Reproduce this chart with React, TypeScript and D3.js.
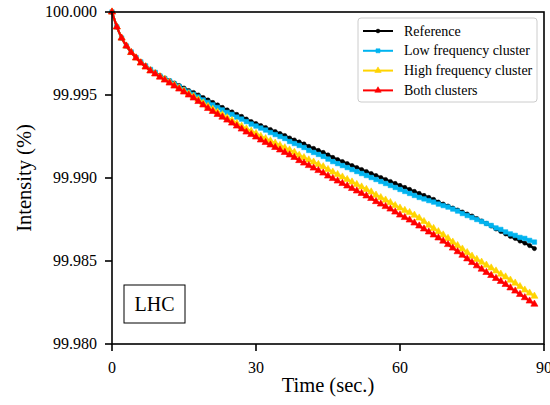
import React from "react";
import * as d3 from "d3";

const TIME = [
  0, 1, 2, 3, 4, 5, 6, 7, 8, 9, 10, 11, 12, 13, 14, 15, 16, 17, 18, 19, 20, 21, 22, 23, 24, 25, 26, 27, 28, 29,
  30, 31, 32, 33, 34, 35, 36, 37, 38, 39, 40, 41, 42, 43, 44, 45, 46, 47, 48, 49, 50, 51, 52, 53, 54, 55, 56, 57, 58, 59,
  60, 61, 62, 63, 64, 65, 66, 67, 68, 69, 70, 71, 72, 73, 74, 75, 76, 77, 78, 79, 80, 81, 82, 83, 84, 85, 86, 87, 88,
];

const REFERENCE = [
  100.0, 99.9991, 99.99843, 99.99795, 99.99759, 99.99726, 99.99699, 99.99675, 99.99654, 99.99636,
  99.99617, 99.99602, 99.99587, 99.99572, 99.99557, 99.99542, 99.99527, 99.99515, 99.995, 99.99485,
  99.9947, 99.99455, 99.9944, 99.99425, 99.9941, 99.99398, 99.99383, 99.99371, 99.99355, 99.9934,
  99.99328, 99.99316, 99.99304, 99.99292, 99.9928, 99.99268, 99.99256, 99.99241, 99.99229, 99.99217,
  99.99205, 99.9919, 99.99178, 99.99166, 99.99154, 99.99139, 99.99124, 99.99111, 99.99099, 99.99087,
  99.99075, 99.99063, 99.99051, 99.99039, 99.99027, 99.99015, 99.99003, 99.98991, 99.98979, 99.98967,
  99.98955, 99.98943, 99.98931, 99.98919, 99.98907, 99.98895, 99.98883, 99.98871, 99.98855, 99.98843,
  99.98831, 99.98819, 99.98807, 99.98795, 99.98783, 99.98771, 99.98756, 99.98741, 99.98726, 99.98711,
  99.98693, 99.98678, 99.98663, 99.98648, 99.98636, 99.9862, 99.98608, 99.98593, 99.98575,
];

const LOW_FREQUENCY = [
  100.0, 99.9991, 99.99843, 99.99795, 99.99759, 99.99726, 99.99699, 99.99675, 99.99654, 99.99636,
  99.99614, 99.99599, 99.99584, 99.99566, 99.99551, 99.99533, 99.99518, 99.99503, 99.99488, 99.9947,
  99.99455, 99.9944, 99.99425, 99.9941, 99.99395, 99.99383, 99.99367, 99.99355, 99.9934, 99.99325,
  99.99313, 99.99301, 99.99289, 99.99274, 99.99262, 99.9925, 99.99238, 99.9922, 99.99208, 99.99196,
  99.99184, 99.99166, 99.99154, 99.99142, 99.9913, 99.99114, 99.99099, 99.99087, 99.99075, 99.99063,
  99.99051, 99.99039, 99.99027, 99.99015, 99.99003, 99.98991, 99.98979, 99.98967, 99.98955, 99.98943,
  99.98931, 99.98919, 99.98907, 99.98895, 99.98883, 99.98874, 99.98864, 99.98855, 99.98843, 99.98834,
  99.98825, 99.98813, 99.98801, 99.98786, 99.98774, 99.98762, 99.9875, 99.98738, 99.98726, 99.98714,
  99.98699, 99.9869, 99.98675, 99.98663, 99.98654, 99.98642, 99.98636, 99.98624, 99.98614,
];

const HIGH_FREQUENCY = [
  100.0, 99.9991, 99.99843, 99.99795, 99.99756, 99.99723, 99.99694, 99.9967, 99.99647, 99.99629,
  99.99611, 99.99594, 99.99576, 99.99559, 99.99541, 99.99524, 99.99507, 99.9949, 99.99471, 99.99451,
  99.99431, 99.99414, 99.99396, 99.99381, 99.99363, 99.99346, 99.99329, 99.99312, 99.99296, 99.99282,
  99.99268, 99.99251, 99.99237, 99.99224, 99.9921, 99.99196, 99.99182, 99.99169, 99.99155, 99.99137,
  99.99123, 99.99109, 99.99096, 99.99082, 99.99068, 99.99051, 99.99036, 99.99021, 99.99006, 99.98991,
  99.98976, 99.98961, 99.98946, 99.98931, 99.98916, 99.98897, 99.98882, 99.98867, 99.98852, 99.98834,
  99.98819, 99.98805, 99.98792, 99.98776, 99.98759, 99.98738, 99.98716, 99.98696, 99.98677, 99.98657,
  99.98636, 99.98614, 99.98593, 99.98572, 99.98551, 99.98529, 99.9851, 99.98493, 99.98475, 99.98458,
  99.9844, 99.98421, 99.98404, 99.98385, 99.98367, 99.98346, 99.98325, 99.98307, 99.98288,
];

const BOTH_CLUSTERS = [
  100.0, 99.9991, 99.99843, 99.99795, 99.99756, 99.99723, 99.99693, 99.99669, 99.99645, 99.99627,
  99.99608, 99.9959, 99.99572, 99.99554, 99.99536, 99.99518, 99.995, 99.99482, 99.99461, 99.9944,
  99.99419, 99.99401, 99.99383, 99.99367, 99.99349, 99.99331, 99.99313, 99.99295, 99.99277, 99.99262,
  99.99247, 99.99229, 99.99214, 99.99199, 99.99184, 99.99169, 99.99154, 99.99139, 99.99124, 99.99105,
  99.9909, 99.99075, 99.9906, 99.99045, 99.9903, 99.99012, 99.98997, 99.98982, 99.98967, 99.98952,
  99.98937, 99.98922, 99.98907, 99.98892, 99.98877, 99.98858, 99.98843, 99.98828, 99.98813, 99.98795,
  99.98777, 99.98762, 99.98747, 99.98729, 99.98711, 99.98693, 99.98675, 99.98657, 99.98639, 99.9862,
  99.98599, 99.98578, 99.98556, 99.98535, 99.98513, 99.98491, 99.98471, 99.98451, 99.98431, 99.98413,
  99.98395, 99.98377, 99.98359, 99.98338, 99.98319, 99.98299, 99.98279, 99.98259, 99.9824,
];

const SERIES_NAMES = ["Reference", "Low frequency cluster", "High frequency cluster", "Both clusters"];
const X_TICKS = [0, 30, 60, 90];
const Y_TICKS = [100.0, 99.995, 99.99, 99.985, 99.98];
const X_LABEL = "Time (sec.)";
const Y_LABEL = "Intensity (%)";
const ANNOTATION = "LHC";

const COLORS = ["#000000", "#00B4F0", "#FFD400", "#FF0000"];
const SYMBOLS = [d3.symbolCircle, d3.symbolSquare, d3.symbolTriangle, d3.symbolTriangle];
const SYMBOL_SIZES = [14, 20, 22, 22];
const FONT = "'Liberation Serif', 'Times New Roman', Times, serif";

export default function App() {
  const W = 550;
  const H = 405;
  const m = { left: 112, right: 544, top: 12, bottom: 344 };

  const x = d3.scaleLinear().domain([0, 90]).range([m.left, m.right]);
  const y = d3.scaleLinear().domain([99.98, 100.0]).range([m.bottom, m.top]);
  const fmt = d3.format(".3f");

  const allSeries = [REFERENCE, LOW_FREQUENCY, HIGH_FREQUENCY, BOTH_CLUSTERS];

  const line = d3
    .line<[number, number]>()
    .x((d) => x(d[0]))
    .y((d) => y(d[1]));

  const legendX = 358;
  const legendY = 18;
  const legendW = 179;
  const legendH = 84;

  return (
    <svg
      width={W}
      height={H}
      style={{ position: "absolute", left: 0, top: 0, background: "#fff" }}
      fontFamily={FONT}
    >
      <rect x={0} y={0} width={W} height={H} fill="#fff" />

      {allSeries.map((vals, si) => {
        const pts: [number, number][] = TIME.map((t, i) => [t, vals[i]]);
        const sym = d3.symbol().type(SYMBOLS[si]).size(SYMBOL_SIZES[si])();
        return (
          <g key={si}>
            <path d={line(pts) || ""} fill="none" stroke={COLORS[si]} strokeWidth={2.2} />
            {pts.map((p, i) => (
              <path
                key={i}
                d={sym || ""}
                transform={`translate(${x(p[0])},${y(p[1])})`}
                fill={COLORS[si]}
                stroke={COLORS[si]}
                strokeWidth={0.6}
              />
            ))}
          </g>
        );
      })}

      <rect
        x={m.left}
        y={m.top}
        width={m.right - m.left}
        height={m.bottom - m.top}
        fill="none"
        stroke="#000"
        strokeWidth={1.6}
      />

      {Y_TICKS.map((v) => (
        <g key={v}>
          <line x1={m.left - 7} x2={m.left} y1={y(v)} y2={y(v)} stroke="#000" strokeWidth={1.6} />
          <text x={m.left - 15} y={y(v)} dy="0.34em" textAnchor="end" fontSize={16} fill="#000">
            {fmt(v)}
          </text>
        </g>
      ))}

      {X_TICKS.map((v) => (
        <g key={v}>
          <line x1={x(v)} x2={x(v)} y1={m.bottom} y2={m.bottom + 7} stroke="#000" strokeWidth={1.6} />
          <text x={x(v)} y={m.bottom + 29} textAnchor="middle" fontSize={16} fill="#000">
            {v}
          </text>
        </g>
      ))}

      <text x={(m.left + m.right) / 2} y={392} textAnchor="middle" fontSize={20.5} fill="#000">
        {X_LABEL}
      </text>
      <text
        transform={`translate(31,${(m.top + m.bottom) / 2}) rotate(-90)`}
        textAnchor="middle"
        fontSize={20.5}
        fill="#000"
      >
        {Y_LABEL}
      </text>

      <rect x={124} y={285} width={61} height={38} fill="#fff" stroke="#000" strokeWidth={1} />
      <text x={154.5} y={311} textAnchor="middle" fontSize={20} fill="#000">
        {ANNOTATION}
      </text>

      <rect
        x={legendX}
        y={legendY}
        width={legendW}
        height={legendH}
        rx={3}
        fill="#fff"
        fillOpacity={0.85}
        stroke="#cccccc"
        strokeWidth={1}
      />
      {SERIES_NAMES.map((name, si) => {
        const cy = legendY + 13 + si * 19.8;
        const sym = d3.symbol().type(SYMBOLS[si]).size(SYMBOL_SIZES[si] * 0.8)();
        return (
          <g key={name}>
            <line x1={363} x2={393} y1={cy} y2={cy} stroke={COLORS[si]} strokeWidth={2} />
            <path d={sym || ""} transform={`translate(378,${cy})`} fill={COLORS[si]} stroke={COLORS[si]} strokeWidth={0.6} />
            <text x={404} y={cy} dy="0.33em" fontSize={14} fill="#000">
              {name}
            </text>
          </g>
        );
      })}
    </svg>
  );
}
